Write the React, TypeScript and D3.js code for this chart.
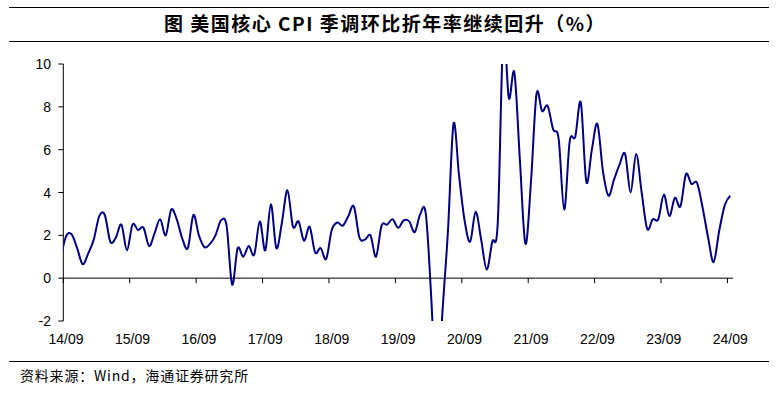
import React from 'react';
import * as d3 from 'd3';

// 月度数据：2014-08 起（首点落在坐标轴左侧，被裁掉）
const cpiSaar = [
  0.9, 1.95, 2.05, 1.4, 0.65, 1.15, 1.8, 2.9, 2.95, 1.7, 1.9, 2.5, 1.3,
  2.5, 2.25, 2.35, 1.5, 2.1, 2.75, 2.0, 3.2, 2.75, 1.85, 1.4, 2.95,
  2.0, 1.45, 1.6, 2.0, 2.7, 2.45, -0.3, 1.4, 1.0, 1.5, 1.1, 2.65,
  1.3, 3.45, 1.4, 2.6, 4.1, 2.4, 2.65, 1.75, 2.4, 1.2, 1.4, 0.9,
  2.25, 2.6, 2.45, 2.9, 3.35, 1.9, 1.8, 2.0, 1.0, 2.45, 2.5, 2.75,
  2.35, 2.7, 2.65, 2.15, 3.0, 3.0, -1.0, -6.0, -1.6, 2.2, 7.2, 4.8,
  2.7, 1.7, 3.1, 1.8, 0.4, 1.7, 2.6, 11.4, 8.4, 9.6, 5.5, 1.6,
  4.5, 8.6, 7.8, 8.05, 6.95, 6.5, 3.2, 6.4, 6.6, 8.2, 4.5, 6.0,
  7.2, 5.0, 3.85, 4.6, 5.3, 5.8, 4.0, 5.8, 4.0, 2.3, 2.75, 2.75,
  3.9, 2.9, 3.75, 3.35, 4.85, 4.4, 4.45, 3.3, 1.9, 0.75, 2.2, 3.4, 3.85,
];
const xTickLabels = ['14/09', '15/09', '16/09', '17/09', '18/09', '19/09', '20/09', '21/09', '22/09', '23/09', '24/09'];
const yTicks = [-2, 0, 2, 4, 6, 8, 10];

const title = '图  美国核心 CPI 季调环比折年率继续回升（%）';
const source = '资料来源：Wind，海通证券研究所';

const W = 783;
const H = 393;
const plot = { left: 63.3, right: 733, top: 64, bottom: 321 };
const latin = 'Arial, "Liberation Sans", sans-serif';
const cjk = '"Noto Sans CJK SC", "Noto Sans", sans-serif';

export default function App() {
  const x = d3.scaleLinear().domain([0, 121]).range([plot.left, plot.right]);
  const y = d3.scaleLinear().domain([-2, 10]).range([plot.bottom, plot.top]);

  // 点位于月份中间（m + 0.5），首点为 2014-08
  const line = d3.line<number>()
    .x((_, i) => x(i - 0.5))
    .y(d => y(d))
    .curve(d3.curveCardinal.tension(0));

  const y0 = y(0);

  return (
    <>
      <style>{`body{margin:0}`}</style>
      <svg width={W} height={H} style={{ display: 'block', background: '#fff' }}>
        <defs>
          <clipPath id="plotClip">
            <rect x={plot.left} y={plot.top} width={plot.right - plot.left + 2} height={plot.bottom - plot.top} />
          </clipPath>
        </defs>

        {/* 标题 */}
        <line x1={9} x2={769} y1={7.5} y2={7.5} stroke="#000" strokeWidth={1.2} />
        <text x={385} y={31} textAnchor="middle" fontFamily={cjk} fontWeight={700} fontSize={19}
          letterSpacing={1.5} fill="#000">
          {title}
        </text>
        <line x1={9} x2={769} y1={41.5} y2={41.5} stroke="#000" strokeWidth={1.2} />

        {/* y 轴 */}
        <line x1={plot.left} x2={plot.left} y1={plot.top} y2={plot.bottom} stroke="#000" />
        {yTicks.map(t => (
          <g key={t}>
            <line x1={plot.left - 5} x2={plot.left} y1={y(t)} y2={y(t)} stroke="#000" />
            <text x={51} y={y(t) + 5} textAnchor="end" fontFamily={latin} fontSize={14} fill="#000">{t}</text>
          </g>
        ))}

        {/* x 轴（位于 0 处） */}
        <line x1={plot.left} x2={plot.right} y1={y0} y2={y0} stroke="#000" />
        {xTickLabels.map((lab, j) => (
          <g key={lab}>
            <line x1={x(12 * j)} x2={x(12 * j)} y1={y0} y2={y0 + 5} stroke="#000" />
            <text x={x(12 * j + 0.5)} y={344} textAnchor="middle" fontFamily={latin} fontSize={14} fill="#000">{lab}</text>
          </g>
        ))}

        <path d={line(cpiSaar) ?? ''} fill="none" stroke="#000080" strokeWidth={2} clipPath="url(#plotClip)" />

        {/* 来源 */}
        <line x1={9} x2={769} y1={361.5} y2={361.5} stroke="#000" strokeWidth={1.2} />
        <text x={20} y={381} fontFamily={cjk} fontSize={14} letterSpacing={0.8} fill="#000">{source}</text>
      </svg>
    </>
  );
}
